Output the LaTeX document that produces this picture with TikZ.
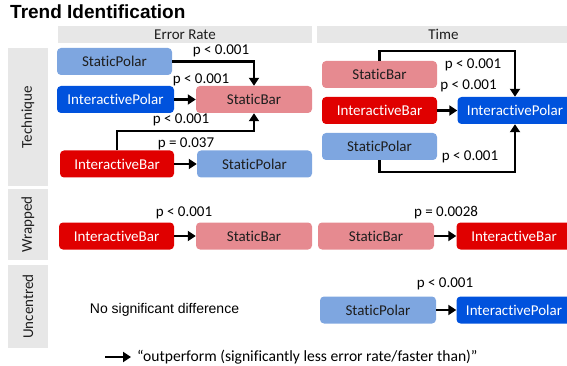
\documentclass[tikz,border=0pt]{standalone}
\usepackage{fontspec}
\setmainfont{Carlito}[Ligatures=NoCommon]
\newfontfamily\arialf{Liberation Sans}
\usetikzlibrary{arrows.meta,calc}
\definecolor{lblue}{HTML}{7EA6E0}
\definecolor{dblue}{HTML}{0052DD}
\definecolor{dred}{HTML}{E00000}
\definecolor{lpink}{HTML}{E68A90}
\definecolor{dtext}{HTML}{1E1E1E}
\definecolor{hgray}{HTML}{E7E7E7}
\tikzset{
  box/.style={rounded corners=4pt, minimum width=115pt, minimum height=27pt, inner sep=0pt, font=\fontsize{15}{18}\selectfont},
  spbox/.style={box, fill=lblue, text=dtext},
  ipbox/.style={box, fill=dblue, text=white},
  sbbox/.style={box, fill=lpink, text=dtext},
  ibbox/.style={box, fill=dred, text=white},
  arr/.style={line width=2.4pt, -{Triangle[width=10pt,length=8pt]}},
  plab/.style={font=\fontsize{15}{18}\selectfont, inner sep=0pt, text=black},
  hdr/.style={fill=hgray, inner sep=0pt, minimum height=17pt, text=dtext, font=\fontsize{15}{18}\selectfont},
  rowl/.style={fill=hgray, inner sep=0pt, minimum height=40pt, rotate=90, text=dtext, font=\fontsize{15}{18}\selectfont}
}
\begin{document}
\begin{tikzpicture}[x=1pt,y=-1pt]
\useasboundingbox (0,0) rectangle (567,366);
\clip (0,0) rectangle (567,366);
% title
\node[anchor=base west, inner sep=0pt, font=\arialf\bfseries\fontsize{19}{22}\selectfont] (title) at (10,19) {Trend Identification};
% headers
\node[hdr, minimum width=254pt] (h1) at (185,34.5) {Error Rate};
\node[hdr, minimum width=253pt] (h2) at (443.5,34.5) {Time};
% row labels
\node[rowl, minimum width=138pt] (r1) at (28,117) {Technique};
\node[rowl, minimum width=71pt] (r2) at (28,224.5) {Wrapped};
\node[rowl, minimum width=83pt] (r3) at (28,306.5) {Uncentred};
% Error rate, technique
\node[spbox] (e1) at (114.5,61.5) {StaticPolar};
\node[ipbox, minimum width=117pt] (e2) at (115.5,99.5) {InteractivePolar};
\node[sbbox, minimum width=116pt] (e3) at (254,99.5) {StaticBar};
\node[ibbox, minimum width=114pt] (e4) at (117,164) {InteractiveBar};
\node[spbox] (e5) at (254.5,164) {StaticPolar};
\draw[arr] (e1.east) -| (e3.north);
\draw[arr] (e2) -- (e3);
\draw[arr] (e4.north) |- ([yshift=-18pt]e3.south) -- (e3.south);
\draw[arr] (e4) -- (e5);
\node[plab] (l1) at (221,51) {p < 0.001};
\node[plab] (l2) at (201,80) {p < 0.001};
\node[plab] (l3) at (181,120) {p < 0.001};
\node[plab] (l4) at (186,144) {p = 0.037};
% Time, technique
\node[sbbox] (t1) at (379.5,74.5) {StaticBar};
\node[ibbox] (t2) at (379.5,110.5) {InteractiveBar};
\node[spbox] (t3) at (379.5,146.5) {StaticPolar};
\node[ipbox] (t4) at (515,110.5) {InteractivePolar};
\draw[arr] (t1.north) -- ([yshift=10pt]t1.north) -| (t4.north);
\draw[arr] (t2) -- (t4);
\draw[arr] (t3.south) -- ([yshift=-12pt]t3.south) -| (t4.south);
\node[plab] (l5) at (473,65) {p < 0.001};
\node[plab] (l6) at (468.5,86) {p < 0.001};
\node[plab] (l7) at (470,157) {p < 0.001};
% Wrapped
\node[ibbox] (w1) at (116.5,236) {InteractiveBar};
\node[sbbox, minimum width=116pt] (w2) at (254,236) {StaticBar};
\draw[arr] (w1) -- (w2);
\node[plab] (l8) at (184,213) {p < 0.001};
\node[sbbox, minimum width=116pt] (w3) at (376,236) {StaticBar};
\node[ibbox] (w4) at (514,236) {InteractiveBar};
\draw[arr] (w3) -- (w4);
\node[plab] (l9) at (446,213) {p = 0.0028};
% Uncentred
\node[inner sep=0pt, font=\arialf\fontsize{14}{17}\selectfont] (nsd) at (164.5,310) {No significant difference};
\node[spbox, minimum width=116pt] (u1) at (378,310) {StaticPolar};
\node[ipbox] (u2) at (514,310) {InteractivePolar};
\draw[arr] (u1) -- (u2);
\node[plab] (l10) at (445,284) {p < 0.001};
% legend
\coordinate (la) at (105,357);
\coordinate (lb) at (131,357);
\draw[arr] (la) -- (lb);
\node[plab, anchor=west, font=\fontsize{15.6}{18}\selectfont] (leg) at (137,357) {“outperform (significantly less error rate/faster than)”};
\end{tikzpicture}
\end{document}
